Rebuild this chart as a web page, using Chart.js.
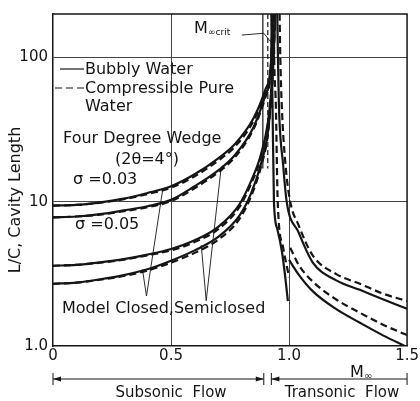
<!DOCTYPE html>
<html>
<head>
<meta charset="utf-8">
<script src="https://cdn.jsdelivr.net/npm/chart.js@4.4.1/dist/chart.umd.min.js"></script>
<style>
  html, body { margin: 0; padding: 0; background: #fff; }
  #wrap { width: 420px; height: 401px; }
</style>
</head>
<body>
<div id="wrap"><canvas id="cavityChart" width="420" height="401"></canvas></div>
<script>
// -------------------- DATA --------------------
const xTicks = [0, 0.5, 1.0, 1.5];
const xTickLabels = ['0', '0.5', '1.0', '1.5'];
const yTicks = [1, 10, 100];
const yTickLabels = ['1.0', '10', '100'];

// subsonic, sigma = 0.03 (closed / semiclosed, bubbly + pure water)
const mSub03 = [0, 0.1, 0.2, 0.3, 0.4, 0.5, 0.6, 0.7, 0.77, 0.85, 0.9, 0.925, 0.93];
const s03Closed = [9.4, 9.5, 9.9, 10.5, 11.5, 12.8, 15.5, 20, 25, 38, 60, 100, 200];
const s03ClosedPure = [9.4, 9.5, 9.85, 10.4, 11.3, 12.5, 15, 19.3, 24, 36.5, 58, 98, 200];
const s03Semi = [7.8, 7.9, 8.2, 8.7, 9.3, 10.3, 12.8, 16.5, 21, 33, 55, 95, 200];
const s03SemiPure = [7.8, 7.9, 8.15, 8.6, 9.15, 10.1, 12.4, 16, 20.3, 32, 53, 93, 200];

// subsonic, sigma = 0.05
const mSub05 = [0, 0.1, 0.2, 0.3, 0.4, 0.5, 0.6, 0.7, 0.79, 0.84, 0.88, 0.91, 0.925, 0.935, 0.94];
const s05Closed = [3.6, 3.65, 3.8, 4.0, 4.3, 4.7, 5.4, 6.7, 9.6, 14, 21, 35, 60, 110, 200];
const s05ClosedPure = [3.6, 3.65, 3.78, 3.97, 4.25, 4.6, 5.25, 6.45, 9.2, 13.4, 20, 34, 58, 108, 200];
const s05Semi = [2.7, 2.75, 2.9, 3.1, 3.4, 3.9, 4.6, 5.7, 8.0, 11.5, 18, 30, 55, 105, 200];
const s05SemiPure = [2.7, 2.75, 2.88, 3.06, 3.33, 3.78, 4.42, 5.45, 7.6, 11, 17.2, 29, 53, 103, 200];

// transonic, branch that crosses M = 1
const mTrUp = [0.95, 0.953, 0.957, 0.975, 0.99, 1.04, 1.1, 1.2, 1.3, 1.4, 1.5];
const trUp = [200, 100, 47, 18, 10, 6.15, 3.8, 2.85, 2.45, 2.1, 1.81];
const mTrUpPure = [0.96, 0.963, 0.969, 0.985, 1.005, 1.04, 1.1, 1.2, 1.3, 1.4, 1.5];
const trUpPure = [200, 100, 47, 18, 10, 6.9, 4.25, 3.15, 2.7, 2.3, 2.05];

// transonic, lower branch below M = 1
const mTrLoL = [0.925, 0.927, 0.93, 0.936, 0.95, 0.97, 0.985, 0.995];
const trLoL = [200, 100, 47, 10, 6.5, 4.5, 2.9, 2.05];
const mTrLoLPure = [0.935, 0.937, 0.944, 0.952, 0.975, 1.0];
const trLoLPure = [200, 100, 47, 10, 4.8, 3.0];

// transonic, lower branch above M = 1
const mTrLoR = [1.0, 1.04, 1.1, 1.2, 1.3, 1.4, 1.49];
const trLoR = [3.95, 3.14, 2.4, 1.8, 1.45, 1.18, 1.0];
const mTrLoRPure = [1.005, 1.04, 1.1, 1.2, 1.3, 1.4, 1.5];
const trLoRPure = [4.8, 3.67, 2.8, 2.1, 1.7, 1.4, 1.19];

// M_crit asymptote markers
const mCrit = [0.889, 0.91];
const critTop = 200;
const critBottom = 17;

// annotation pointers [M, L/C]
const closedPtr = [[0.379, 3.4], [0.396, 2.22], [0.464, 11.9]];
const semiPtr = [[0.628, 5.0], [0.649, 2.06], [0.712, 17]];
const critPtr = [[0.80, 143], [0.893, 147], [0.923, 128]];
const flowMarks = [0, 0.893, 0.925, 1.5];

// -------------------- HELPERS --------------------
const INK = '#151515';
const FONT = '"DejaVu Sans", sans-serif';

function curve(xs, ys, dashed) {
    return {
        data: xs.map((x, i) => ({ x: x, y: ys[i] })),
        borderColor: INK,
        borderWidth: 2.2,
        borderDash: dashed ? [7, 4] : [],
        pointRadius: 0,
        fill: false,
        cubicInterpolationMode: 'monotone'
    };
}

function vline(x, dashed) {
    return {
        data: [{ x: x, y: critTop }, { x: x, y: critBottom }],
        borderColor: INK,
        borderWidth: 1.2,
        borderDash: dashed ? [5, 3] : [],
        pointRadius: 0,
        tension: 0
    };
}

// -------------------- EXTRA DRAWING --------------------
const extras = {
    id: 'extras',
    afterDatasetsDraw(chart) {
        const ctx = chart.ctx;
        const a = chart.chartArea;
        const xs = chart.scales.x, ys = chart.scales.y;
        const px = p => [xs.getPixelForValue(p[0]), ys.getPixelForValue(p[1])];

        ctx.save();
        // frame top + right
        ctx.strokeStyle = INK;
        ctx.lineWidth = 1.5;
        ctx.beginPath();
        ctx.moveTo(a.left, a.top); ctx.lineTo(a.right, a.top); ctx.lineTo(a.right, a.bottom);
        ctx.stroke();

        // pointer lines
        ctx.lineWidth = 0.9;
        [closedPtr, semiPtr, critPtr].forEach(pts => {
            const p0 = px(pts[0]), p1 = px(pts[1]), p2 = px(pts[2]);
            ctx.beginPath();
            ctx.moveTo(p0[0], p0[1]); ctx.lineTo(p1[0], p1[1]); ctx.lineTo(p2[0], p2[1]);
            ctx.stroke();
        });

        // texts inside the plot
        ctx.fillStyle = INK;
        ctx.textBaseline = 'middle';
        ctx.textAlign = 'left';
        ctx.font = '16px ' + FONT;
        ctx.fillText('Bubbly Water', 85, 70);
        ctx.fillText('Compressible Pure', 85, 89);
        ctx.fillText('Water', 85, 107);
        ctx.fillText('Four Degree Wedge', 63, 139);
        ctx.fillText('(2\u03B8=4\u00B0)', 115, 160);
        ctx.fillText('\u03C3 =0.03', 73, 180);
        ctx.fillText('\u03C3 =0.05', 75, 225);
        ctx.fillText('Model Closed,Semiclosed', 62, 309);

        // legend line samples
        ctx.lineWidth = 1.2;
        ctx.beginPath(); ctx.moveTo(60, 69); ctx.lineTo(84, 69); ctx.stroke();
        ctx.setLineDash([7, 4]);
        ctx.beginPath(); ctx.moveTo(55, 88); ctx.lineTo(84, 88); ctx.stroke();
        ctx.setLineDash([]);

        // M_inf crit label
        ctx.font = '16px ' + FONT;
        ctx.textBaseline = 'alphabetic';
        ctx.fillText('M', 194, 33);
        ctx.font = '9px ' + FONT;
        ctx.fillText('\u221Ecrit', 208, 35);

        // M_inf axis label
        ctx.font = '16px ' + FONT;
        ctx.fillText('M', 350, 377);
        ctx.font = '10px ' + FONT;
        ctx.fillText('\u221E', 364, 379);

        // y title
        ctx.save();
        ctx.translate(16, 200);
        ctx.rotate(-Math.PI / 2);
        ctx.textAlign = 'center';
        ctx.textBaseline = 'middle';
        ctx.font = '16px ' + FONT;
        ctx.fillText('L/C, Cavity Length', 0, 0);
        ctx.restore();

        // flow range arrows
        const fy = 379;
        const f = flowMarks.map(m => xs.getPixelForValue(m));
        ctx.lineWidth = 1;
        ctx.beginPath();
        ctx.moveTo(f[0], fy); ctx.lineTo(f[1], fy);
        ctx.moveTo(f[2], fy); ctx.lineTo(f[3], fy);
        f.forEach(x => { ctx.moveTo(x, fy - 6); ctx.lineTo(x, fy + 6); });
        ctx.stroke();
        const head = (x, dir) => {
            ctx.beginPath();
            ctx.moveTo(x, fy); ctx.lineTo(x + dir * 8, fy - 2.5); ctx.lineTo(x + dir * 8, fy + 2.5);
            ctx.closePath(); ctx.fill();
        };
        head(f[0], 1); head(f[1], -1); head(f[2], 1);
        ctx.font = '15px ' + FONT;
        ctx.textAlign = 'center';
        ctx.textBaseline = 'middle';
        ctx.fillText('Subsonic  Flow', 171, 393);
        ctx.fillText('Transonic  Flow', 342, 393);
        ctx.restore();
    }
};

// -------------------- CHART --------------------
const datasets = [
    curve(mSub03, s03Closed, false), curve(mSub03, s03ClosedPure, true),
    curve(mSub03, s03Semi, false), curve(mSub03, s03SemiPure, true),
    curve(mSub05, s05Closed, false), curve(mSub05, s05ClosedPure, true),
    curve(mSub05, s05Semi, false), curve(mSub05, s05SemiPure, true),
    curve(mTrUp, trUp, false), curve(mTrUpPure, trUpPure, true),
    curve(mTrLoL, trLoL, false), curve(mTrLoLPure, trLoLPure, true),
    curve(mTrLoR, trLoR, false), curve(mTrLoRPure, trLoRPure, true),
    vline(mCrit[0], false), vline(mCrit[1], true)
];

new Chart(document.getElementById('cavityChart'), {
    type: 'line',
    data: { datasets: datasets },
    options: {
        responsive: false,
        animation: false,
        layout: { padding: { top: 8, right: 11, left: 0, bottom: 0 } },
        plugins: { legend: { display: false }, tooltip: { enabled: false } },
        scales: {
            x: {
                type: 'linear', min: 0, max: 1.5,
                afterBuildTicks: s => { s.ticks = xTicks.map(v => ({ value: v })); },
                afterFit: s => { s.height = 55; },
                ticks: {
                    color: INK, font: { family: FONT, size: 15 }, padding: 1,
                    maxRotation: 0,
                    callback: (v) => xTickLabels[xTicks.indexOf(v)]
                },
                grid: {
                    drawTicks: false, lineWidth: 1,
                    color: c => (c.tick && (c.tick.value === 0.5 || c.tick.value === 1)) ? '#444' : 'rgba(0,0,0,0)'
                },
                border: { display: true, color: INK, width: 1.5 }
            },
            y: {
                type: 'logarithmic', min: 1, max: 200,
                afterBuildTicks: s => { s.ticks = yTicks.map(v => ({ value: v })); },
                afterFit: s => { s.width = 53; },
                ticks: {
                    color: INK, font: { family: FONT, size: 15 }, padding: 5,
                    callback: (v) => yTickLabels[yTicks.indexOf(v)]
                },
                grid: {
                    drawTicks: false, lineWidth: 1,
                    color: c => (c.tick && c.tick.value > 1) ? '#444' : 'rgba(0,0,0,0)'
                },
                border: { display: true, color: INK, width: 1.5 }
            }
        }
    },
    plugins: [extras]
});
</script>
</body>
</html>
